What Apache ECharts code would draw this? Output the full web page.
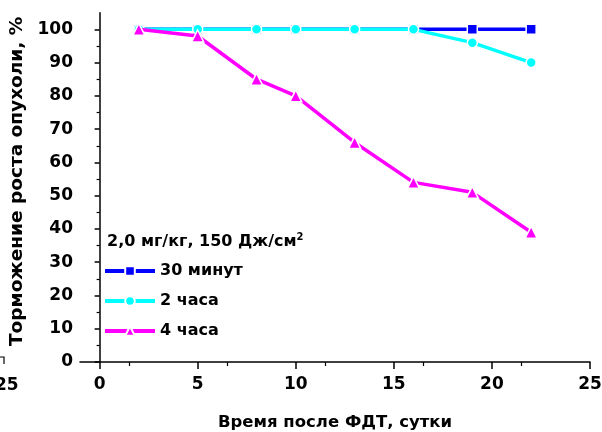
<!DOCTYPE html>
<html><head><meta charset="utf-8">
<script src="https://cdn.jsdelivr.net/npm/echarts@6/dist/echarts.min.js"></script>
<style>html,body{margin:0;padding:0;background:#fff}#c{width:602px;height:432px}</style>
</head><body><div id="c"></div>
<script>
const days = [2, 5, 8, 10, 13, 16, 19, 22];
const s30min = [100, 100, 100, 100, 100, 100, 100, 100];
const s2h = [100, 100, 100, 100, 100, 100, 96, 90];
const s4h = [100, 98, 85, 80, 66, 54, 51, 39];
const seriesNames = ['30 минут', '2 часа', '4 часа'];
const xTicks = [0, 5, 10, 15, 20, 25];
const yTicks = [0, 10, 20, 30, 40, 50, 60, 70, 80, 90, 100];

const font = '"DejaVu Sans", sans-serif';
const pair = arr => days.map((d, i) => [d, arr[i]]);
const chart = echarts.init(document.getElementById('c'));
chart.setOption({
  animation: false,
  textStyle: { fontFamily: font },
  grid: { left: 80, right: 12, top: 12.7, bottom: 70, containLabel: false, outerBoundsMode: 'none' },
  xAxis: {
    type: 'value', min: -1, max: 25, interval: 5,
    name: 'Время после ФДТ, сутки', nameLocation: 'middle', nameGap: 52,
    nameTextStyle: { fontFamily: font, fontWeight: 'bold', fontSize: 16.5, color: '#000' },
    axisLine: { show: true, onZero: false, lineStyle: { color: '#000', width: 1.5 } },
    axisTick: { show: true, length: 7, lineStyle: { color: '#000', width: 1.5 }, customValues: xTicks },
    minorTick: { show: true, splitNumber: 2, length: 4, lineStyle: { color: '#000', width: 1.2 } },
    splitLine: { show: false },
    axisLabel: { fontFamily: font, fontWeight: 'bold', fontSize: 17, color: '#000', margin: 14,
      customValues: xTicks, formatter: v => xTicks.includes(v) ? String(v) : '' }
  },
  yAxis: {
    type: 'value', min: 0, max: 105, interval: 10,
    name: 'Торможение роста опухоли, %', nameLocation: 'middle', nameGap: 46,
    nameTextStyle: { fontFamily: font, fontWeight: 'bold', fontSize: 18.5, color: '#000', padding: [0, 0, 0, 12] },
    axisLine: { show: true, lineStyle: { color: '#000', width: 1.5 } },
    axisTick: { show: true, length: 5, lineStyle: { color: '#000', width: 1.5 }, customValues: yTicks },
    minorTick: { show: true, splitNumber: 2, length: 3, lineStyle: { color: '#000', width: 1.2 } },
    splitLine: { show: false },
    axisLabel: { fontFamily: font, fontWeight: 'bold', fontSize: 17, color: '#000', margin: 7,
      customValues: yTicks, formatter: v => yTicks.includes(v) ? String(v) : '' }
  },
  legend: {
    orient: 'vertical', left: 98, top: 258, itemWidth: 50, itemHeight: 12, itemGap: 14,
    lineStyle: { width: 4 },
    textStyle: { fontFamily: font, fontWeight: 'bold', fontSize: 16, color: '#000' },
    data: seriesNames
  },
  graphic: [
    { type: 'text', left: 107, top: 232, style: {
      text: '{a|2,0 мг/кг, 150 Дж/см}{s|2}',
      rich: { a: { fontFamily: font, fontWeight: 'bold', fontSize: 16, fill: '#000' },
              s: { fontFamily: font, fontWeight: 'bold', fontSize: 10, fill: '#000', verticalAlign: 'top', padding: [0,0,10,0] } } } },
    { type: 'text', left: -5, top: 377, style: { text: '25', fontFamily: font, fontWeight: 'bold', fontSize: 17, fill: '#000' } },
    { type: 'polyline', shape: { points: [[0, 357], [4, 357], [4, 364]] }, style: { stroke: '#000', lineWidth: 1.2, fill: null } }
  ],
  series: [
    { name: seriesNames[0], type: 'line', data: pair(s30min), symbol: 'rect', symbolSize: 10,
      itemStyle: { color: '#0000FF', borderColor: '#fff', borderWidth: 1.5 }, lineStyle: { color: '#0000FF', width: 3.5 }, z: 2 },
    { name: seriesNames[1], type: 'line', data: pair(s2h), symbol: 'circle', symbolSize: 10,
      itemStyle: { color: '#00FFFF', borderColor: '#fff', borderWidth: 1.5 }, lineStyle: { color: '#00FFFF', width: 3.5 }, z: 3 },
    { name: seriesNames[2], type: 'line', data: pair(s4h), symbol: 'triangle', symbolSize: 12,
      itemStyle: { color: '#FF00FF', borderColor: '#fff', borderWidth: 1.5 }, lineStyle: { color: '#FF00FF', width: 3.5 }, z: 4 }
  ]
});
</script></body></html>
